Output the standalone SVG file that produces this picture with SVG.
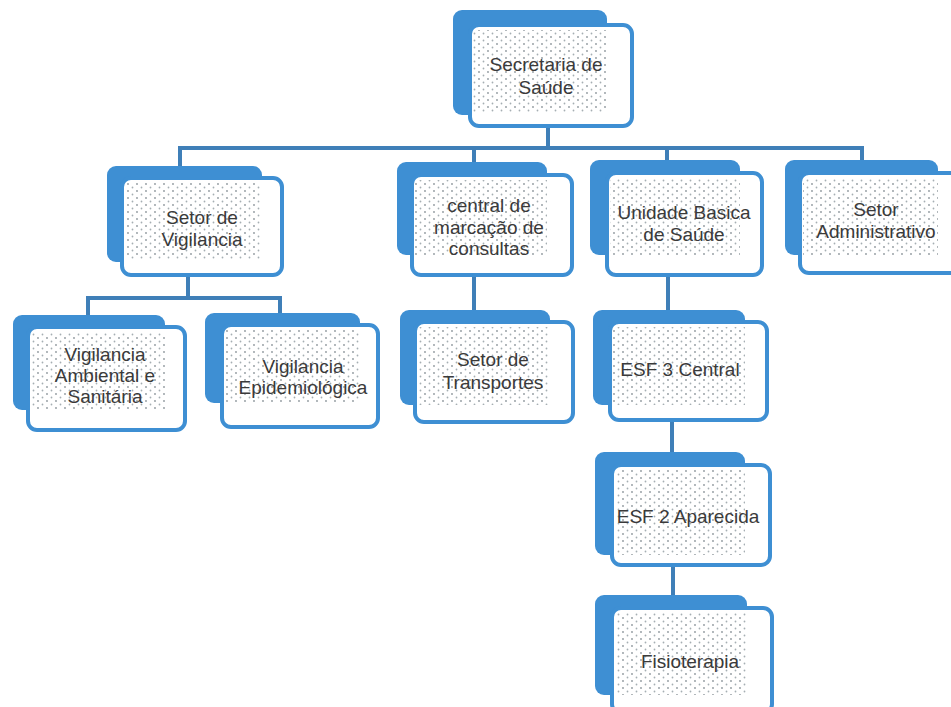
<svg xmlns="http://www.w3.org/2000/svg" width="951" height="707" viewBox="0 0 951 707">
<defs>
<pattern id="dots" width="9" height="7" patternUnits="userSpaceOnUse">
<circle cx="2" cy="2" r="0.9" fill="#8e979c"/>
<circle cx="6.5" cy="5.5" r="0.9" fill="#a6aeb3"/>
</pattern>
<style>
.back{fill:#3e8fd3;}
.front{fill:#ffffff;stroke:#3e8fd3;stroke-width:4;}
.dots{fill:url(#dots);}
.lbl{font-family:"Liberation Sans",Arial,sans-serif;font-size:19px;fill:#3a3a3a;text-anchor:middle;}
.conn{stroke:#3f7fb8;stroke-width:4;fill:none;}
</style>
</defs>
<rect width="951" height="707" fill="#ffffff"/>
<g id="connectors">
<path class="conn" d="M548,126 V148 M180,166 V148 H862 V160 M474,148 V162 M667,148 V160"/>
<path class="conn" d="M188,275 V298 M88,315 V298 H280 V313"/>
<path class="conn" d="M474,275 V310"/>
<path class="conn" d="M668,275 V310"/>
<path class="conn" d="M672,420 V452"/>
<path class="conn" d="M673,565 V595"/>
</g>
<g id="secretaria">
<rect class="back" x="453" y="10" width="154" height="105" rx="9"/>
<rect class="front" x="470" y="25" width="162" height="101" rx="9"/>
<rect class="dots" x="473" y="30" width="134" height="82"/>
<text class="lbl" x="546" y="71">Secretaria de</text>
<text class="lbl" x="546" y="94">Saúde</text>
</g>
<g id="vigilancia">
<rect class="back" x="107" y="166" width="155" height="96" rx="9"/>
<rect class="front" x="122" y="178" width="160" height="97" rx="9"/>
<rect class="dots" x="125" y="183" width="137" height="76"/>
<text class="lbl" x="202" y="224">Setor de</text>
<text class="lbl" x="202" y="246">Vigilancia</text>
</g>
<g id="central">
<rect class="back" x="397" y="162" width="150" height="93" rx="9"/>
<rect class="front" x="412" y="175" width="160" height="100" rx="9"/>
<rect class="dots" x="415" y="180" width="132" height="75"/>
<text class="lbl" x="489" y="212">central de</text>
<text class="lbl" x="489" y="234">marcação de</text>
<text class="lbl" x="489" y="255">consultas</text>
</g>
<g id="unidade">
<rect class="back" x="590" y="160" width="150" height="95" rx="9"/>
<rect class="front" x="607" y="173" width="155" height="102" rx="9"/>
<rect class="dots" x="610" y="178" width="130" height="77"/>
<text class="lbl" x="684" y="219">Unidade Basica</text>
<text class="lbl" x="684" y="241">de Saúde</text>
</g>
<g id="administrativo">
<rect class="back" x="785" y="160" width="153" height="95" rx="9"/>
<rect class="front" x="800" y="173" width="160" height="100" rx="9"/>
<rect class="dots" x="803" y="178" width="135" height="77"/>
<text class="lbl" x="876" y="216">Setor</text>
<text class="lbl" x="876" y="238">Administrativo</text>
</g>
<g id="ambiental">
<rect class="back" x="13" y="315" width="152" height="95" rx="9"/>
<rect class="front" x="28" y="327" width="157" height="103" rx="9"/>
<rect class="dots" x="31" y="332" width="134" height="78"/>
<text class="lbl" x="105" y="361">Vigilancia</text>
<text class="lbl" x="105" y="382">Ambiental e</text>
<text class="lbl" x="105" y="403">Sanitária</text>
</g>
<g id="epidemiologica">
<rect class="back" x="205" y="313" width="155" height="90" rx="9"/>
<rect class="front" x="222" y="325" width="156" height="102" rx="9"/>
<rect class="dots" x="225" y="330" width="135" height="73"/>
<text class="lbl" x="303" y="373">Vigilancia</text>
<text class="lbl" x="303" y="394">Epidemiológica</text>
</g>
<g id="transportes">
<rect class="back" x="400" y="310" width="150" height="95" rx="9"/>
<rect class="front" x="415" y="322" width="158" height="100" rx="9"/>
<rect class="dots" x="418" y="327" width="132" height="78"/>
<text class="lbl" x="493" y="366">Setor de</text>
<text class="lbl" x="493" y="389">Transportes</text>
</g>
<g id="esf3">
<rect class="back" x="593" y="310" width="152" height="95" rx="9"/>
<rect class="front" x="610" y="322" width="157" height="98" rx="9"/>
<rect class="dots" x="613" y="327" width="132" height="78"/>
<text class="lbl" x="680" y="376">ESF 3 Central</text>
</g>
<g id="esf2">
<rect class="back" x="595" y="452" width="150" height="103" rx="9"/>
<rect class="front" x="612" y="465" width="158" height="100" rx="9"/>
<rect class="dots" x="615" y="470" width="130" height="85"/>
<text class="lbl" x="688" y="523">ESF 2 Aparecida</text>
</g>
<g id="fisioterapia">
<rect class="back" x="595" y="595" width="152" height="100" rx="9"/>
<rect class="front" x="612" y="608" width="160" height="105" rx="9"/>
<rect class="dots" x="615" y="613" width="132" height="82"/>
<text class="lbl" x="690" y="668">Fisioterapia</text>
</g>
</svg>
